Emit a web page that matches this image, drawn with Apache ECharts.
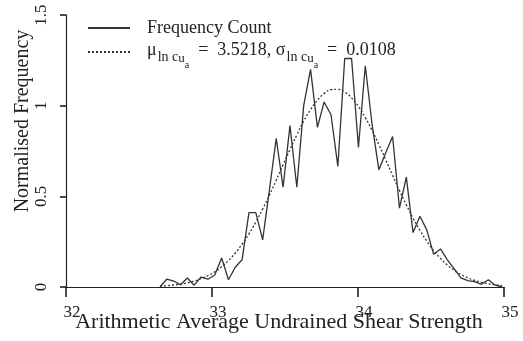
<!DOCTYPE html>
<html>
<head>
<meta charset="utf-8">
<script src="https://cdn.jsdelivr.net/npm/echarts@6/dist/echarts.min.js"></script>
<style>
html,body{margin:0;padding:0;background:#fff;}
#chart{width:523px;height:341px;}
</style>
</head>
<body>
<div id="chart"></div>
<script>
// Bin centres (arithmetic average undrained shear strength)
const strength = [32.644, 32.691, 32.738, 32.785, 32.831, 32.878, 32.925, 32.972, 33.019, 33.066,
  33.113, 33.159, 33.206, 33.253, 33.300, 33.347, 33.394, 33.440, 33.487, 33.534,
  33.581, 33.628, 33.675, 33.722, 33.768, 33.815, 33.862, 33.909, 33.956, 34.003,
  34.050, 34.096, 34.143, 34.190, 34.237, 34.284, 34.331, 34.377, 34.424, 34.471,
  34.518, 34.565, 34.612, 34.659, 34.705, 34.752, 34.799, 34.846, 34.893, 34.940, 34.987];
// Normalised frequency count (solid)
const frequency = [0.000, 0.044, 0.033, 0.012, 0.050, 0.010, 0.055, 0.043, 0.066, 0.160,
  0.040, 0.109, 0.150, 0.410, 0.410, 0.260, 0.540, 0.820, 0.550, 0.890,
  0.550, 1.000, 1.200, 0.880, 1.020, 0.950, 0.665, 1.260, 1.260, 0.770,
  1.220, 0.900, 0.646, 0.740, 0.830, 0.435, 0.606, 0.300, 0.390, 0.315,
  0.180, 0.210, 0.150, 0.100, 0.050, 0.035, 0.030, 0.015, 0.040, 0.010, 0.000];
// Fitted lognormal density (dotted)
const fitted = [0.005, 0.007, 0.011, 0.016, 0.023, 0.033, 0.046, 0.063, 0.084, 0.112,
  0.146, 0.187, 0.236, 0.293, 0.358, 0.430, 0.508, 0.589, 0.674, 0.758,
  0.839, 0.914, 0.978, 1.030, 1.067, 1.088, 1.090, 1.075, 1.043, 0.995,
  0.934, 0.864, 0.785, 0.701, 0.616, 0.532, 0.453, 0.380, 0.313, 0.253,
  0.201, 0.158, 0.121, 0.092, 0.069, 0.051, 0.036, 0.026, 0.018, 0.012, 0.008];
const xTicks = [32, 33, 34, 35];
const yTicks = [0, 0.5, 1, 1.5];

const FONT = '"Liberation Serif", "DejaVu Serif", serif';
const INK = '#222222';

const chart = echarts.init(document.getElementById('chart'), null, {renderer: 'canvas'});
const zip = (xs, ys) => xs.map((x, i) => [x, ys[i]]);

chart.setOption({
  backgroundColor: '#ffffff',
  animation: false,
  grid: {left: 66, right: 19, top: 15, bottom: 54, containLabel: false, outerBoundsMode: 'none'},
  legend: {
    left: 82, top: 14, orient: 'vertical', itemGap: 4,
    itemWidth: 42, itemHeight: 14,
    itemStyle: {opacity: 0},
    data: [{name: 'Frequency Count'}, {name: 'fit'}],
    textStyle: {
      fontFamily: FONT, fontSize: 18, color: INK, padding: [0, 0, 0, 12],
      rich: {
        m: {fontFamily: FONT, fontSize: 18, color: INK, lineHeight: 22, verticalAlign: 'top'},
        s1: {fontFamily: FONT, fontSize: 14, color: INK, lineHeight: 22, verticalAlign: 'top', padding: [9, 0, 0, 1]},
        s2: {fontFamily: FONT, fontSize: 13, color: INK, lineHeight: 22, verticalAlign: 'top', padding: [11, 0, 0, 0]},
        s3: {fontFamily: FONT, fontSize: 10, color: INK, lineHeight: 22, verticalAlign: 'top', padding: [19, 0, 0, 0]}
      }
    },
    formatter: function (name) {
      if (name === 'fit') {
        return '{m|μ}{s1|ln c}{s2|u}{s3|a}{m|  =  3.5218, σ}{s1|ln c}{s2|u}{s3|a}{m|  =  0.0108}';
      }
      return name;
    }
  },
  xAxis: {
    type: 'value', min: 32, max: 35, interval: 1,
    axisLine: {show: true, onZero: false, lineStyle: {color: INK, width: 1.2}},
    axisTick: {show: true, length: 10, inside: false, lineStyle: {color: '#111', width: 1.5}},
    splitLine: {show: false},
    axisLabel: {
      fontFamily: FONT, fontSize: 17, color: INK, margin: 17, padding: [0, 0, 0, 12],
      formatter: v => xTicks.indexOf(v) >= 0 ? String(v) : ''
    },
    name: 'Arithmetic Average Undrained Shear Strength',
    nameLocation: 'middle', nameGap: 24, nameMoveOverlap: false,
    nameTextStyle: {fontFamily: FONT, fontSize: 22, color: INK, padding: [0, 12, 0, 0]}
  },
  yAxis: {
    type: 'value', min: 0, max: 1.5, interval: 0.5,
    axisLine: {show: true, lineStyle: {color: INK, width: 1.2}},
    axisTick: {show: true, length: 6, inside: false, lineStyle: {color: '#111', width: 1.5}},
    splitLine: {show: false},
    axisLabel: {
      fontFamily: FONT, fontSize: 17, color: INK, margin: 16, rotate: 90,
      formatter: v => yTicks.indexOf(v) >= 0 ? String(v) : ''
    },
    name: 'Normalised Frequency',
    nameLocation: 'middle', nameGap: 33, nameRotate: 90, nameMoveOverlap: false,
    nameTextStyle: {fontFamily: FONT, fontSize: 20, color: INK, padding: [0, 0, 0, 60]}
  },
  series: [
    {
      name: 'Frequency Count', type: 'line', data: zip(strength, frequency),
      symbol: 'none', showSymbol: false,
      lineStyle: {color: '#333', width: 1.3, type: 'solid'},
      itemStyle: {color: '#333'}
    },
    {
      name: 'fit', type: 'line', data: zip(strength, fitted),
      symbol: 'none', showSymbol: false, smooth: true,
      lineStyle: {color: '#333', width: 1.3, type: [2, 2]},
      itemStyle: {color: '#333'}
    }
  ]
});
</script>
</body>
</html>
